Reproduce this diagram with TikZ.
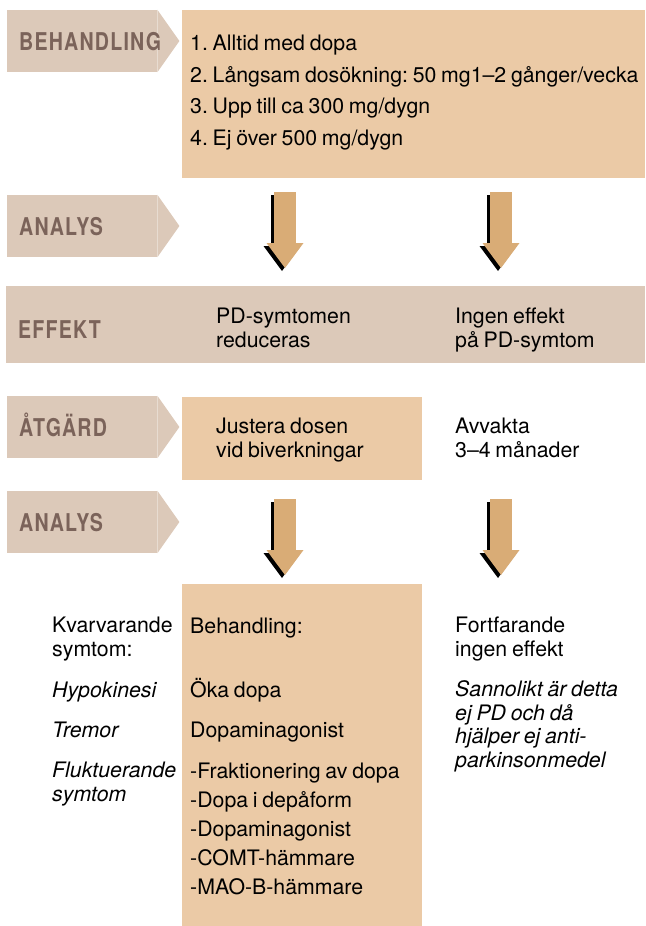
\documentclass[tikz,border=0pt]{standalone}
\usepackage{fontspec}
\setmainfont{TeX Gyre Heros}[WordSpace=0.8]
\newfontfamily\tagfont{TeX Gyre Heros}[FakeStretch=0.8,LetterSpace=5]
\usetikzlibrary{arrows.meta, positioning, backgrounds}
\frenchspacing

\definecolor{tagbg}{HTML}{DCC9B9}
\definecolor{tagfg}{HTML}{7B635A}
\definecolor{peach}{HTML}{EBCAA6}
\definecolor{arrowbg}{HTML}{D9AC76}

\tikzset{
  txt/.style={inner sep=0pt, align=left, anchor=base west, font=\fontsize{21.3}{23.5}\selectfont},
  itxt/.style={txt, font=\fontsize{21.3}{23.5}\selectfont\itshape},
  tag/.style={rectangle, fill=tagbg, text=tagfg, minimum width=150pt, minimum height=62pt,
    text width=126pt, inner xsep=12pt, inner ysep=0pt, text height=18pt, text depth=0pt,
    align=left, anchor=west, font=\fontsize{24.5}{26}\tagfont\bfseries},
  box/.style={rectangle, fill=peach, inner sep=0pt, anchor=north west},
  fat/.style={line width=22pt, draw=arrowbg, -{Triangle[width=37pt, length=25pt, line width=0pt]}},
  fatshadow/.style={fat, draw=black, transform canvas={shift={(-3pt,-3pt)}}},
}

\begin{document}
\begin{tikzpicture}[x=1pt, y=-1pt]
  \useasboundingbox (0,0) rectangle (645,926);

  % row labels
  \node[tag] (tagbeh) at (7,41) {BEHANDLING};
  \node[tag] (taganaone) at (7,226) {ANALYS};
  \node[tag, anchor=north west, minimum width=639pt, minimum height=77pt,
    text width=615pt, text height=27pt] (effband) at (6,286) {EFFEKT};
  \node[tag] (tagatg) at (7,427) {ÅTGÄRD};
  \node[tag] (taganatwo) at (7,522) {ANALYS};
  \begin{scope}[on background layer]
    \foreach \t in {tagbeh, taganaone, tagatg, taganatwo}
      \fill[tagbg] (\t.north east) -- ([xshift=22pt]\t.east) -- (\t.south east) -- cycle;
  \end{scope}

  % boxes
  \node[box, minimum width=463pt, minimum height=168pt] (dosebox) at (182,10) {};
  \node[box, minimum width=240pt, minimum height=83pt] (adjbox) at (182,397) {};
  \node[box, minimum width=240pt, minimum height=342pt] (treatbox) at (182,584) {};

  \node[txt] (doselist) at (190,145) {1. Alltid med dopa\\[8pt]
    2. Långsam dosökning: 50 mg1--2 gånger/vecka\\[8pt]
    3. Upp till ca 300 mg/dygn\\[8pt]
    4. Ej över 500 mg/dygn};

  % effekt
  \node[txt] (reduced) at (216,347) {PD-symtomen\\reduceras};
  \node[txt] (noeffect) at (455,347) {Ingen effekt\\på PD-symtom};

  % atgard
  \node[txt] (adjust) at (216,457) {Justera dosen\\vid biverkningar};
  \node[txt] (wait) at (455,457) {Avvakta\\3--4 månader};

  % arrows
  \coordinate (l1top) at (285,192); \coordinate (l1tip) at (285,268);
  \coordinate (r1top) at (501,192); \coordinate (r1tip) at (501,268);
  \coordinate (l2top) at (285,499); \coordinate (l2tip) at (285,575);
  \coordinate (r2top) at (501,499); \coordinate (r2tip) at (501,575);
  \foreach \c in {l1, r1, l2, r2} {
    \draw[fatshadow] (\c top) -- (\c tip);
    \draw[fat] (\c top) -- (\c tip);
  }

  % bottom rows
  \node[txt] (remain) at (52,656) {Kvarvarande\\symtom:};
  \node[txt] (treat) at (190,633) {Behandling:};
  \node[txt] (still) at (455,656) {Fortfarande\\ingen effekt};

  \node[itxt] (hypo) at (52,697) {Hypokinesi};
  \node[txt] (moredopa) at (190,697) {Öka dopa};
  \node[itxt] (notpd) at (455,767) {Sannolikt är detta\\ej PD och då\\hjälper ej anti-\\parkinsonmedel};

  \node[itxt] (tremor) at (52,737) {Tremor};
  \node[txt] (agonist) at (190,737) {Dopaminagonist};

  \node[itxt] (fluct) at (52,801) {Fluktuerande\\symtom};
  \node[txt] (options) at (190,894) {-Fraktionering av dopa\\[5.5pt]
    -Dopa i depåform\\[5.5pt]
    -Dopaminagonist\\[5.5pt]
    -COMT-hämmare\\[5.5pt]
    -MAO-B-hämmare};
\end{tikzpicture}
\end{document}
